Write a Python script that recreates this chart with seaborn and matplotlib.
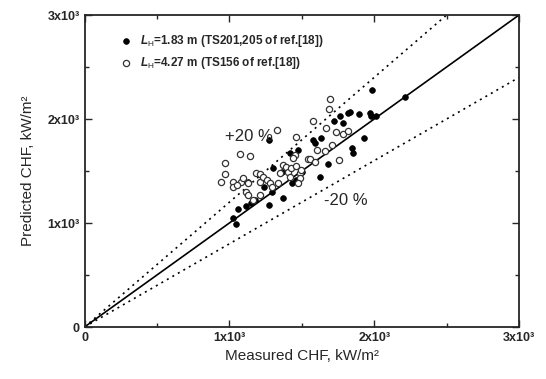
import numpy as np
import pandas as pd
import matplotlib
matplotlib.use("Agg")
import matplotlib.pyplot as plt
import seaborn as sns

# measured vs predicted CHF (kW/m2)
short_meas = [1022, 1045, 1059, 1118, 1146, 1176, 1275, 1369, 1293, 1302, 1238, 1128,
              1431, 1417, 1473, 1272, 1458, 1362, 1988, 2210, 1895, 1970, 1981, 2015,
              1831, 1820, 1762, 1785, 1721, 1636, 1578, 1590, 1927, 1850, 1854, 1682,
              1625, 1501]
short_pred = [1051, 990, 1132, 1163, 1195, 1221, 1176, 1238, 1298, 1526, 1346, 1394,
              1385, 1670, 1702, 1798, 1413, 1490, 2279, 2214, 2048, 2055, 2029, 2029,
              2070, 2055, 2029, 1959, 1984, 1814, 1798, 1766, 1814, 1718, 1670, 1567,
              1439, 1490]

long_meas = [969, 969, 942, 1073, 1141, 1077, 1027, 1118, 1130, 1164, 1183, 1210,
             1210, 1233, 1257, 1280, 1291, 1337, 1349, 1372, 1394, 1406, 1429, 1463,
             1486, 1417, 1486, 1475, 1540, 1210, 1022, 1050, 1095, 1130, 1326, 1693,
             1689, 1578, 1666, 1739, 1785, 1820, 1463, 1602, 1659, 1712, 1555, 1590,
             1757, 1452, 1440, 1493]
long_pred = [1580, 1468, 1397, 1661, 1644, 1397, 1397, 1301, 1269, 1221, 1478, 1468,
             1397, 1439, 1413, 1382, 1349, 1382, 1478, 1558, 1541, 1493, 1526, 1548,
             1478, 1445, 1430, 1382, 1613, 1269, 1349, 1365, 1436, 1382, 1894, 2192,
             2093, 1981, 1911, 1878, 1856, 1888, 1830, 1702, 1695, 1750, 1613, 1589,
             1606, 1654, 1622, 1510]

line_x = [0, 3000]
ratios = [1.0, 1.2, 0.8]

sns.set_style("ticks")
plt.rcParams["font.family"] = ["Liberation Sans", "DejaVu Sans"]
plt.rcParams["mathtext.fontset"] = "custom"
plt.rcParams["mathtext.rm"] = "Liberation Sans"
plt.rcParams["mathtext.it"] = "Liberation Sans:italic:bold"
plt.rcParams["mathtext.bf"] = "Liberation Sans:bold"

fig = plt.figure(figsize=(5.46, 3.79), dpi=100)
ax = fig.add_axes([0.1548, 0.1372, 0.7958, 0.8232])

# 1:1 and +/-20 % lines
for r in ratios:
    ls = "-" if r == 1.0 else (0, (1.2, 2.6))
    sns.lineplot(x=line_x, y=[v * r for v in line_x], ax=ax, color="black",
                 lw=1.2, linestyle=ls, legend=False)

df_s = pd.DataFrame({"m": short_meas, "p": short_pred})
df_l = pd.DataFrame({"m": long_meas, "p": long_pred})
sns.scatterplot(data=df_s, x="m", y="p", ax=ax, color="black", s=17,
                edgecolor="black", linewidth=0.5, zorder=3,
                label=r"$L_{\rm H}$=1.83 m (TS201,205 of ref.[18])")
sns.scatterplot(data=df_l, x="m", y="p", ax=ax, facecolor="white", s=20,
                edgecolor="#333333", linewidth=0.9, zorder=3,
                label=r"$L_{\rm H}$=4.27 m (TS156 of ref.[18])")

ax.set_xlim(0, 3000)
ax.set_ylim(0, 3000)
ticks = [0, 1000, 2000, 3000]
tick_labels = ["0", "1x10³", "2x10³", "3x10³"]
ax.set_xticks(ticks)
ax.set_xticklabels(tick_labels, fontsize=9, fontweight="bold")
ax.set_yticks(ticks)
ax.set_yticklabels(tick_labels, fontsize=9, fontweight="bold")
ax.set_xticks([500, 1500, 2500], minor=True)
ax.set_yticks([500, 1500, 2500], minor=True)
ax.tick_params(which="both", direction="in", top=True, right=True, width=1)
ax.tick_params(which="major", length=5)
ax.tick_params(which="minor", length=3)
for sp in ax.spines.values():
    sp.set_linewidth(1.3)

ax.set_xlabel("Measured CHF, kW/m²", fontsize=11, labelpad=4)
ax.set_ylabel("Predicted CHF, kW/m²", fontsize=11, labelpad=9)

ax.text(1134, 1827, "+20 %", fontsize=12, ha="center", va="center")
ax.text(1803, 1214, "-20 %", fontsize=12, ha="center", va="center")

leg = ax.legend(loc="upper left", bbox_to_anchor=(0.055, 0.975), frameon=False,
                handletextpad=0.6, labelspacing=0.45, handlelength=1.2,
                prop={"size": 8.5, "weight": "bold"})

fig.savefig("out.png", dpi=100)
